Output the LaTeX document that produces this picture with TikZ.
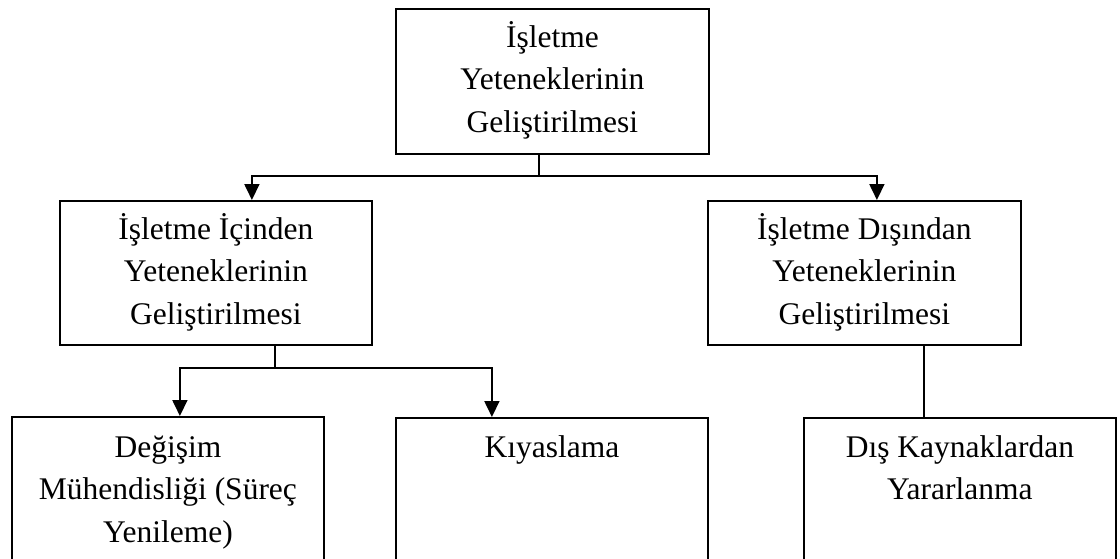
\documentclass[tikz,border=0pt]{standalone}
\usepackage{fontspec}
\setmainfont{Liberation Serif}
\usetikzlibrary{arrows.meta}
\begin{document}
\begin{tikzpicture}[x=1pt,y=1pt,
  boxnode/.style={draw, line width=1.8pt, rectangle, inner sep=0pt, anchor=north west},
  lbl/.style={inner sep=0pt, anchor=base, font=\fontsize{31.5}{42.5}\selectfont},
  link/.style={line width=1.8pt},
  arr/.style={link, -{Triangle[width=15pt,length=16pt]}}]
  \useasboundingbox (0,0) rectangle (1120,-558);
  \clip (0,0) rectangle (1120,-558);

  % boxes
  \node[boxnode, minimum width=313pt, minimum height=145pt] (top) at (395,-8) {};
  \node[boxnode, minimum width=312pt, minimum height=144pt] (ml) at (59,-200) {};
  \node[boxnode, minimum width=313pt, minimum height=144pt] (mr) at (707,-200) {};
  \node[boxnode, minimum width=312pt, minimum height=200pt] (bl) at (11,-416) {};
  \node[boxnode, minimum width=312pt, minimum height=200pt] (ky) at (395,-417) {};
  \node[boxnode, minimum width=312pt, minimum height=200pt] (br) at (803,-417) {};

  % texts
  \node[lbl] (topT) at ([yshift=-39pt]top.north) {\begin{tabular}[t]{@{}c@{}}İşletme\\Yeteneklerinin\\Geliştirilmesi\end{tabular}};
  \node[lbl] (mlT) at ([yshift=-39pt]ml.north) {\begin{tabular}[t]{@{}c@{}}İşletme İçinden\\Yeteneklerinin\\Geliştirilmesi\end{tabular}};
  \node[lbl] (mrT) at ([yshift=-39pt]mr.north) {\begin{tabular}[t]{@{}c@{}}İşletme Dışından\\Yeteneklerinin\\Geliştirilmesi\end{tabular}};
  \node[lbl] (blT) at ([yshift=-41pt]bl.north) {\begin{tabular}[t]{@{}c@{}}Değişim\\Mühendisliği (Süreç\\Yenileme)\end{tabular}};
  \node[lbl] (kyT) at ([yshift=-40pt]ky.north) {Kıyaslama};
  \node[lbl] (brT) at ([yshift=-40pt]br.north) {\begin{tabular}[t]{@{}c@{}}Dış Kaynaklardan\\Yararlanma\end{tabular}};

  % connectors
  \coordinate (j1) at (539,-176);
  \coordinate (j2) at (275,-368);
  \draw[link] (top.south -| j1) -- (j1);
  \draw[arr] (j1) -| ([xshift=36pt]ml.north);
  \draw[arr] (j1) -| ([xshift=12.5pt]mr.north);
  \draw[link] (ml.south -| j2) -- (j2);
  \draw[arr] (j2) -| ([xshift=12pt]bl.north);
  \draw[arr] (j2) -| ([xshift=-60pt]ky.north);
  \draw[link] ([xshift=59.5pt]mr.south) -- ([xshift=-36pt]br.north);
\end{tikzpicture}
\end{document}
